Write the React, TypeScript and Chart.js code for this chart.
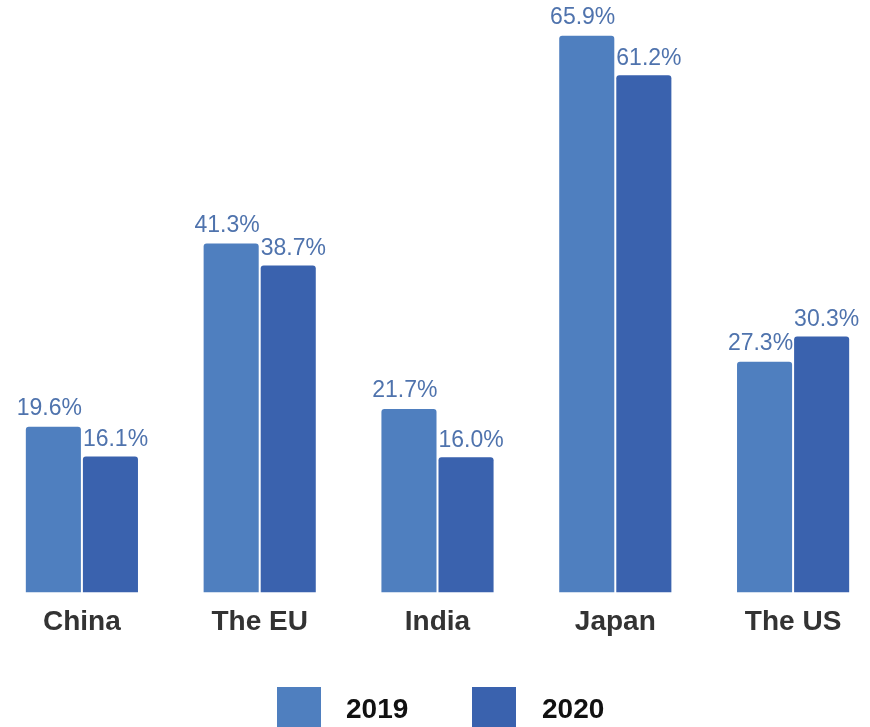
import React, { useEffect, useRef } from "react";
import { Chart, registerables } from "chart.js";

Chart.register(...registerables);

const categories = ["China", "The EU", "India", "Japan", "The US"];
const seriesNames = ["2019", "2020"];
const values2019 = [19.6, 41.3, 21.7, 65.9, 27.3];
const values2020 = [16.1, 38.7, 16.0, 61.2, 30.3];
const colors = ["#4f7fbf", "#3a62ae"];

const FONT = "'Liberation Sans', Arial, Helvetica, sans-serif";

const labelPlugin = {
  id: "barLabels",
  afterDatasetsDraw(chart: any) {
    const ctx = chart.ctx;
    ctx.save();
    ctx.font = `23px ${FONT}`;
    ctx.fillStyle = "#4f73ad";
    ctx.textBaseline = "middle";
    chart.data.datasets.forEach((ds: any, di: number) => {
      const meta = chart.getDatasetMeta(di);
      meta.data.forEach((bar: any, i: number) => {
        const v = ds.data[i];
        const text = v.toFixed(1) + "%";
        if (di === 0) {
          ctx.textAlign = "right";
          ctx.fillText(text, bar.x + bar.width / 2 + 1, bar.y - 18);
        } else {
          ctx.textAlign = "left";
          ctx.fillText(text, bar.x - bar.width / 2, bar.y - 17);
        }
      });
    });
    ctx.restore();
  },
};

export default function App() {
  const ref = useRef<HTMLCanvasElement | null>(null);
  useEffect(() => {
    if (!ref.current) return;
    const chart = new Chart(ref.current, {
      type: "bar",
      data: {
        labels: categories,
        datasets: [
          {
            label: seriesNames[0],
            data: values2019,
            backgroundColor: colors[0],
            borderRadius: 3,
            categoryPercentage: 0.642,
            barPercentage: 0.965,
          },
          {
            label: seriesNames[1],
            data: values2020,
            backgroundColor: colors[1],
            borderRadius: 3,
            categoryPercentage: 0.642,
            barPercentage: 0.965,
          },
        ],
      },
      options: {
        animation: false,
        responsive: true,
        maintainAspectRatio: false,
        layout: { padding: { top: 1, bottom: 75, left: 0, right: 0 } },
        plugins: {
          legend: { display: false },
          tooltip: { enabled: false },
        },
        scales: {
          x: {
            grid: { display: false, drawTicks: false },
            border: { display: false },
            ticks: {
              padding: 13,
              color: "#333333",
              font: { family: FONT, size: 28, weight: "bold" },
            },
          },
          y: {
            display: false,
            min: 0,
            max: 70,
          },
        },
      },
      plugins: [labelPlugin],
    });
    return () => chart.destroy();
  }, []);

  const box = (left: number, color: string) => (
    <div
      style={{
        position: "absolute",
        left,
        top: 687,
        width: 44,
        height: 44,
        background: color,
      }}
    />
  );
  const txt = (left: number, t: string) => (
    <div
      style={{
        position: "absolute",
        left,
        top: 692,
        fontFamily: FONT,
        fontWeight: "bold",
        fontSize: 28,
        lineHeight: "34px",
        color: "#111111",
      }}
    >
      {t}
    </div>
  );

  return (
    <div
      style={{
        position: "fixed",
        left: 0,
        top: 0,
        width: 870,
        height: 727,
        overflow: "hidden",
        background: "#ffffff",
      }}
    >
      <div style={{ position: "absolute", left: -7, top: 0, width: 889, height: 727 }}>
        <canvas ref={ref} />
      </div>
      {box(277, colors[0])}
      {txt(346, seriesNames[0])}
      {box(472, colors[1])}
      {txt(542, seriesNames[1])}
    </div>
  );
}
